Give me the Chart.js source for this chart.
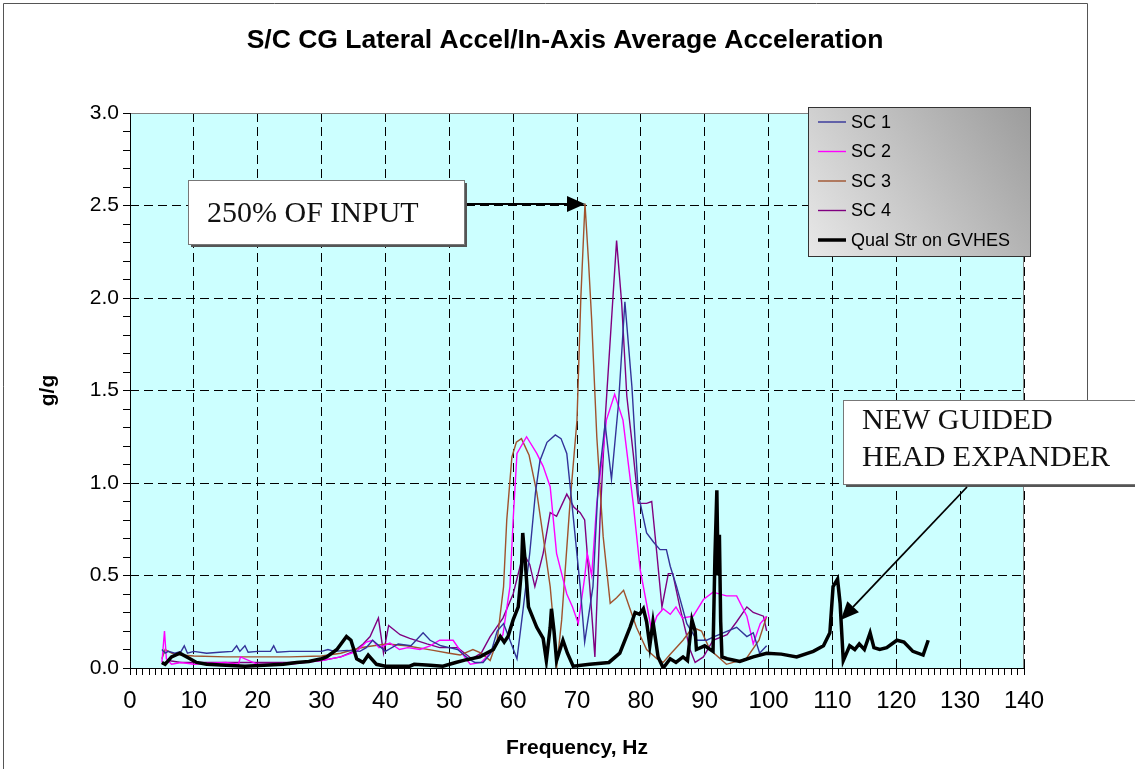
<!DOCTYPE html>
<html>
<head>
<meta charset="utf-8">
<script src="https://cdn.jsdelivr.net/npm/chart.js@4.4.0/dist/chart.umd.min.js"></script>
<style>
  html, body { margin: 0; padding: 0; background: #fff; }
  #wrap { width: 1135px; height: 769px; }
</style>
</head>
<body>
<div id="wrap"><canvas id="chart" width="1135" height="769"></canvas></div>
<script>
// chart data
const seriesNames = ["SC 1", "SC 2", "SC 3", "SC 4", "Qual Str on GVHES"];
const seriesColors = ["#333399", "#ff00ff", "#a0522d", "#800080", "#000000"];

const freqSC1 = [5, 5.5, 6, 7, 8, 8.5, 9, 10, 12, 14, 16, 16.7, 17.2, 18, 18.5, 20, 22, 22.5, 23, 25, 27, 30, 31, 32, 34, 36, 37, 38, 40, 42, 44, 45.9, 47, 48.7, 50, 51.3, 53, 54, 55.3, 56.5, 57.5, 58.5, 59.5, 60.6, 61.5, 62.6, 63.5, 64.2, 65.3, 66.6, 67.5, 68.4, 69.2, 70.5, 71.2, 72.5, 73.3, 74.1, 74.4, 75.4, 76.5, 77.5, 78.6, 79.6, 80.9, 82, 83, 84, 84.6, 85.6, 87.2, 88.8, 90.3, 91.5, 92.9, 95, 96.6, 97.6, 98.6, 99.7];
const valSC1  = [0.1, 0.08, 0.09, 0.08, 0.09, 0.12, 0.08, 0.09, 0.08, 0.085, 0.09, 0.12, 0.09, 0.12, 0.085, 0.09, 0.09, 0.12, 0.085, 0.09, 0.09, 0.09, 0.1, 0.09, 0.095, 0.09, 0.11, 0.15, 0.09, 0.13, 0.12, 0.19, 0.15, 0.12, 0.11, 0.1, 0.05, 0.03, 0.03, 0.08, 0.2, 0.24, 0.15, 0.05, 0.3, 0.62, 0.95, 1.12, 1.22, 1.26, 1.24, 1.16, 0.89, 0.44, 0.14, 0.44, 0.98, 1.23, 1.32, 1.02, 1.43, 1.98, 1.52, 0.94, 0.73, 0.68, 0.64, 0.64, 0.55, 0.44, 0.24, 0.15, 0.15, 0.17, 0.19, 0.22, 0.17, 0.19, 0.08, 0.12];

const freqSC2 = [5, 5.4, 5.7, 6.5, 8, 10, 15, 17, 17.3, 20, 25, 30, 33, 35.5, 37, 38, 39, 40.7, 42.2, 43.5, 45.4, 47, 48.5, 50.6, 52.2, 53.3, 55, 56.4, 58.4, 59.5, 60, 60.6, 62.1, 63.7, 64.7, 65.8, 66.8, 68.4, 69.3, 70.2, 71.2, 71.6, 72.3, 73.1, 74.1, 74.6, 75.9, 77.2, 78.8, 79.9, 81.7, 82.5, 83.5, 84.6, 85.5, 86.5, 88.2, 89.8, 91.3, 93.4, 95, 96.6, 97.6, 98.7, 99.7];
const valSC2  = [0.03, 0.2, 0.05, 0.02, 0.03, 0.02, 0.03, 0.02, 0.06, 0.02, 0.02, 0.04, 0.06, 0.09, 0.14, 0.15, 0.11, 0.135, 0.1, 0.11, 0.1, 0.12, 0.15, 0.15, 0.07, 0.02, 0.03, 0.08, 0.18, 0.44, 0.8, 1.16, 1.25, 1.16, 1.09, 0.98, 0.62, 0.4, 0.33, 0.24, 0.49, 0.62, 0.5, 0.89, 1.18, 1.34, 1.48, 1.34, 0.89, 0.53, 0.2, 0.28, 0.32, 0.29, 0.33, 0.27, 0.28, 0.37, 0.41, 0.39, 0.39, 0.28, 0.13, 0.24, 0.28];

const freqSC3 = [5, 5.5, 6.5, 8, 10, 15, 20, 25, 30, 33, 35, 37, 40.2, 43.3, 47.5, 50, 51.7, 53.7, 55, 56.4, 57.5, 58.5, 59, 59.8, 60.5, 61.3, 62.5, 63.7, 64.7, 65.8, 66.5, 66.8, 67.6, 68.9, 70, 70.6, 71.25, 71.8, 72.3, 73.1, 74.1, 75.2, 76.2, 77.3, 78.2, 79.3, 80.9, 82.5, 83.5, 84.5, 86.6, 88.1, 89.5, 90.8, 93.4, 96.5, 98.5, 99.7];
const valSC3  = [0.05, 0.1, 0.08, 0.07, 0.065, 0.06, 0.06, 0.06, 0.065, 0.08, 0.1, 0.115, 0.13, 0.12, 0.095, 0.08, 0.07, 0.1, 0.08, 0.04, 0.15, 0.44, 0.8, 1.14, 1.22, 1.24, 1.15, 0.95, 0.71, 0.44, 0.17, 0.0, 0.26, 0.89, 1.34, 2.0, 2.51, 2.2, 1.88, 1.25, 0.71, 0.35, 0.38, 0.42, 0.33, 0.22, 0.1, 0.05, 0.03, 0.07, 0.15, 0.22, 0.2, 0.1, 0.02, 0.05, 0.15, 0.28];

const freqSC4 = [5, 6, 8, 10, 15, 20, 25, 30, 33, 35, 36.5, 37.6, 38.9, 39.7, 40.5, 42.3, 43.8, 46.5, 48.5, 51.3, 53.5, 55, 56.4, 58.4, 60, 61.6, 62.6, 63.4, 64.7, 65.8, 66.8, 68.4, 69.5, 70.5, 71.2, 72, 72.8, 73.6, 74.4, 75.4, 76.2, 77, 77.8, 78.8, 79.6, 80.9, 81.7, 82.5, 83.3, 84.3, 85, 86.1, 87.7, 88.5, 89.8, 91.3, 93.5, 95, 96.6, 97.6, 99.2, 99.7];
const valSC4  = [0.02, 0.04, 0.03, 0.03, 0.03, 0.03, 0.03, 0.04, 0.06, 0.09, 0.13, 0.17, 0.27, 0.08, 0.23, 0.18, 0.16, 0.13, 0.11, 0.11, 0.05, 0.08, 0.17, 0.27, 0.4, 0.62, 0.56, 0.44, 0.62, 0.84, 0.82, 0.94, 0.87, 0.84, 0.8, 0.44, 0.06, 0.8, 1.34, 1.88, 2.31, 1.97, 1.47, 1.16, 0.89, 0.89, 0.9, 0.62, 0.33, 0.51, 0.51, 0.33, 0.1, 0.03, 0.06, 0.15, 0.18, 0.25, 0.33, 0.3, 0.28, 0.2];

const freqQual = [5, 5.5, 6.5, 7.8, 9.4, 10.4, 12, 15, 18, 21, 24, 26.1, 28, 30, 30.8, 32.4, 33.9, 34.6, 35.5, 36.5, 37.3, 38.6, 40, 43.8, 44.5, 47, 49, 51, 52.7, 54.8, 56.9, 58, 58.6, 59.2, 60, 60.8, 61.3, 61.5, 61.9, 62.4, 63.7, 64.7, 65.2, 65.8, 66, 66.4, 66.8, 67.8, 68.5, 69.4, 72, 75, 76.7, 78.3, 79.1, 79.8, 80.4, 80.9, 81.4, 81.9, 82.7, 83.5, 84.6, 85.5, 86.6, 87.3, 88, 88.5, 88.7, 90, 91.3, 91.6, 91.9, 92.1, 92.3, 92.5, 92.7, 93.5, 95.5, 97.6, 99.7, 102, 104.4, 107, 108.6, 109.6, 110.1, 110.8, 111.2, 111.7, 112.7, 113.5, 114.2, 115, 115.9, 116.5, 117.4, 118.5, 120.1, 121.2, 122.6, 124.2, 125];
const valQual  = [0.03, 0.02, 0.06, 0.08, 0.05, 0.03, 0.02, 0.015, 0.01, 0.015, 0.02, 0.03, 0.035, 0.05, 0.06, 0.1, 0.17, 0.15, 0.05, 0.03, 0.07, 0.02, 0.01, 0.01, 0.02, 0.015, 0.01, 0.03, 0.045, 0.06, 0.1, 0.17, 0.14, 0.17, 0.26, 0.33, 0.53, 0.73, 0.57, 0.33, 0.22, 0.16, 0.04, 0.22, 0.32, 0.2, 0.04, 0.15, 0.08, 0.01, 0.02, 0.03, 0.08, 0.22, 0.3, 0.29, 0.32, 0.25, 0.12, 0.25, 0.06, 0.0, 0.05, 0.03, 0.06, 0.04, 0.26, 0.2, 0.1, 0.12, 0.09, 0.6, 0.96, 0.5, 0.72, 0.25, 0.06, 0.05, 0.035, 0.06, 0.08, 0.075, 0.06, 0.09, 0.12, 0.19, 0.44, 0.48, 0.35, 0.04, 0.12, 0.1, 0.13, 0.1, 0.19, 0.11, 0.1, 0.11, 0.15, 0.14, 0.09, 0.07, 0.15];

const xTickLabels = [0, 10, 20, 30, 40, 50, 60, 70, 80, 90, 100, 110, 120, 130, 140];
const yTickLabels = ["0.0", "0.5", "1.0", "1.5", "2.0", "2.5", "3.0"];

function toPoints(fs, vs) {
  return fs.map((f, i) => ({ x: f, y: vs[i] }));
}

const allFreqs = [freqSC1, freqSC2, freqSC3, freqSC4, freqQual];
const allVals = [valSC1, valSC2, valSC3, valSC4, valQual];

const datasets = seriesNames.map((name, i) => ({
  label: name,
  data: toPoints(allFreqs[i], allVals[i]),
  borderColor: seriesColors[i],
  borderWidth: i === 4 ? 3.5 : 1.4,
  pointRadius: 0,
  tension: 0,
  fill: false,
  order: i === 4 ? -1 : i,
}));

// fundo, moldura, legenda, caixas de texto
const decorPlugin = {
  id: "decor",
  beforeDraw(chart) {
    const ctx = chart.ctx;
    const a = chart.chartArea;
    ctx.save();
    ctx.fillStyle = "#ffffff";
    ctx.fillRect(0, 0, chart.width, chart.height);
    ctx.fillStyle = "#ccffff";
    ctx.fillRect(a.left, a.top, a.right - a.left, a.bottom - a.top);
    // outer frame
    ctx.strokeStyle = "#555";
    ctx.lineWidth = 1;
    ctx.beginPath();
    ctx.moveTo(3.5, chart.height);
    ctx.lineTo(3.5, 3.5);
    ctx.lineTo(1087.5, 3.5);
    ctx.lineTo(1087.5, 400);
    ctx.stroke();
    ctx.restore();
  },
  afterDraw(chart) {
    const ctx = chart.ctx;
    const a = chart.chartArea;
    ctx.save();

    // plot border
    ctx.lineWidth = 1;
    ctx.strokeStyle = "#808080";
    ctx.beginPath();
    ctx.moveTo(a.left, a.top + 0.5);
    ctx.lineTo(a.right - 0.5, a.top + 0.5);
    ctx.lineTo(a.right - 0.5, a.bottom);
    ctx.stroke();
    ctx.strokeStyle = "#000";
    ctx.beginPath();
    ctx.moveTo(a.left + 0.5, a.top);
    ctx.lineTo(a.left + 0.5, a.bottom + 0.5);
    ctx.lineTo(a.right, a.bottom + 0.5);
    ctx.stroke();

    // title
    ctx.fillStyle = "#000";
    ctx.font = "bold 26.5px 'Liberation Sans', Arial, sans-serif";
    ctx.textAlign = "center";
    ctx.textBaseline = "alphabetic";
    ctx.fillText("S/C CG Lateral Accel/In-Axis Average Acceleration", 565, 48);

    // axis titles
    ctx.font = "bold 21px 'Liberation Sans', Arial, sans-serif";
    ctx.textBaseline = "middle";
    ctx.fillText("Frequency, Hz", (a.left + a.right) / 2, 748);
    ctx.save();
    ctx.translate(48, (a.top + a.bottom) / 2);
    ctx.rotate(-Math.PI / 2);
    ctx.fillText("g/g", 0, 0);
    ctx.restore();

    // legend
    const lx = 808, ly = 107, lw = 222, lh = 149;
    const grad = ctx.createLinearGradient(lx, ly + lh, lx + lw, ly);
    grad.addColorStop(0, "#e8e8e8");
    grad.addColorStop(1, "#9c9c9c");
    ctx.fillStyle = grad;
    ctx.fillRect(lx, ly, lw, lh);
    ctx.strokeStyle = "#333";
    ctx.lineWidth = 1;
    ctx.strokeRect(lx + 0.5, ly + 0.5, lw, lh);
    ctx.font = "18px 'Liberation Sans', Arial, sans-serif";
    ctx.textAlign = "left";
    ctx.textBaseline = "middle";
    chart.data.datasets.forEach((ds, i) => {
      const yy = ly + 15 + i * 29.5;
      ctx.strokeStyle = ds.borderColor;
      ctx.lineWidth = i === 4 ? 3.5 : 1.4;
      ctx.beginPath();
      ctx.moveTo(818, yy);
      ctx.lineTo(846, yy);
      ctx.stroke();
      ctx.fillStyle = "#000";
      ctx.fillText(ds.label, 851, yy + 1);
    });

    // annotation boxes
    function box(x, y, w, h) {
      ctx.fillStyle = "#555";
      ctx.fillRect(x + 3, y + 3, w, h);
      ctx.fillStyle = "#fff";
      ctx.fillRect(x, y, w, h);
      ctx.strokeStyle = "#777";
      ctx.lineWidth = 1;
      ctx.strokeRect(x + 0.5, y + 0.5, w, h);
    }
    function arrow(x1, y1, x2, y2) {
      const ang = Math.atan2(y2 - y1, x2 - x1);
      const hl = 18, hw = 8;
      const bx = x2 - hl * Math.cos(ang), by = y2 - hl * Math.sin(ang);
      ctx.strokeStyle = "#000";
      ctx.lineWidth = 1.8;
      ctx.beginPath();
      ctx.moveTo(x1, y1);
      ctx.lineTo(bx, by);
      ctx.stroke();
      ctx.fillStyle = "#000";
      ctx.beginPath();
      ctx.moveTo(x2, y2);
      ctx.lineTo(bx + hw * Math.sin(ang), by - hw * Math.cos(ang));
      ctx.lineTo(bx - hw * Math.sin(ang), by + hw * Math.cos(ang));
      ctx.closePath();
      ctx.fill();
    }

    const xs = chart.scales.x, ys = chart.scales.y;
    box(188, 180, 276, 64);
    ctx.fillStyle = "#111";
    ctx.font = "30px 'Liberation Serif', 'Times New Roman', serif";
    ctx.textAlign = "left";
    ctx.textBaseline = "alphabetic";
    ctx.fillText("250% OF INPUT", 207, 222);
    arrow(467, 204, xs.getPixelForValue(71.25), 204);

    box(843, 400, 320, 84);
    ctx.fillStyle = "#111";
    ctx.fillText("NEW GUIDED", 862, 429);
    ctx.fillText("HEAD EXPANDER", 862, 466);
    arrow(967, 487, xs.getPixelForValue(111.3), ys.getPixelForValue(0.26));

    ctx.restore();
  }
};

const ctx = document.getElementById("chart").getContext("2d");
new Chart(ctx, {
  type: "line",
  data: { datasets: datasets },
  options: {
    responsive: false,
    animation: false,
    layout: { padding: { top: 113, right: 111, left: 0, bottom: 0 } },
    plugins: {
      legend: { display: false },
      title: { display: false },
      tooltip: { enabled: false },
    },
    scales: {
      x: {
        type: "linear",
        min: 0,
        max: 140,
        afterFit: (s) => { s.height = 101; },
        ticks: {
          stepSize: 1,
          autoSkip: false,
          maxRotation: 0,
          padding: 12,
          color: "#000",
          font: { family: "'Liberation Sans', Arial, sans-serif", size: 24 },
          callback: (v) => {
            const r = Math.round(v);
            return xTickLabels.includes(r) && Math.abs(v - r) < 1e-6 ? String(r) : "";
          },
        },
        grid: {
          color: (c) => (c.tick && Math.round(c.tick.value) % 10 === 0 ? "#000" : "rgba(0,0,0,0)"),
          lineWidth: 1,
          tickColor: "#000",
          tickLength: 7,
        },
        border: { display: false, dash: [9, 5] },
      },
      y: {
        min: 0,
        max: 3,
        afterFit: (s) => { s.width = 130; },
        ticks: {
          stepSize: 0.1,
          autoSkip: false,
          padding: 4,
          color: "#000",
          font: { family: "'Liberation Sans', Arial, sans-serif", size: 21 },
          callback: (v) => {
            const k = Math.round(v * 10);
            return k % 5 === 0 ? yTickLabels[k / 5] : "";
          },
        },
        grid: {
          color: (c) => (c.tick && Math.round(c.tick.value * 10) % 5 === 0 ? "#000" : "rgba(0,0,0,0)"),
          lineWidth: 1,
          tickColor: "#000",
          tickLength: 7,
        },
        border: { display: false, dash: [9, 5] },
      },
    },
  },
  plugins: [decorPlugin],
});
</script>
</body>
</html>
